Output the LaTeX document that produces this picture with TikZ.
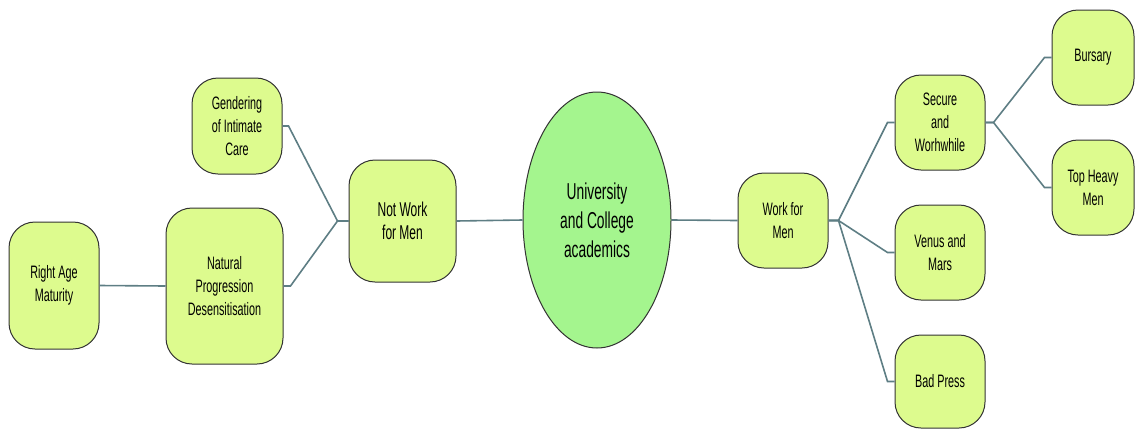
\documentclass[tikz,border=0pt]{standalone}
\usepackage{fontspec}
\setmainfont[FakeStretch=0.6]{Liberation Sans}
\usetikzlibrary{calc,shapes.geometric}
\definecolor{boxfill}{HTML}{DDFB8E}
\definecolor{ellfill}{HTML}{A4F58E}
\definecolor{linec}{HTML}{5E7E84}
\tikzset{
 box/.style={draw=black!80, line width=1pt, fill=boxfill, rounded corners=26pt, align=center, font=\fontsize{18}{23}\selectfont, inner sep=0pt},
 conn/.style={draw=linec, line width=1.6pt},
}
\begin{document}
\begin{tikzpicture}[x=1pt,y=-1pt]
\useasboundingbox (0,0) rectangle (1135,429);
% nodes
\node[box, minimum width=90pt, minimum height=127pt] (rage) at (54,285.5) {Right Age\\Maturity};
\node[box, minimum width=117pt, minimum height=156pt] (nat) at (224.5,286) {Natural\\Progression\\Desensitisation};
\node[box, minimum width=90pt, minimum height=96pt] (gend) at (237,126) {Gendering\\of Intimate\\Care};
\node[box, minimum width=107pt, minimum height=122pt, font=\fontsize{20}{23}\selectfont] (notw) at (402.5,221) {Not Work\\for Men};
\node[ellipse, draw=black!80, line width=1pt, fill=ellfill, minimum width=148pt, minimum height=256pt, inner sep=0pt, align=center, font=\fontsize{23}{29}\selectfont] (root) at (597,220) {University\\and College\\academics};
\node[box, minimum width=90pt, minimum height=95pt] (wfm) at (783,220.5) {Work for\\Men};
\node[box, minimum width=90pt, minimum height=95pt] (sec) at (940,122.5) {Secure\\and\\Worhwhile};
\node[box, minimum width=90pt, minimum height=95pt] (ven) at (940,252.5) {Venus and\\Mars};
\node[box, minimum width=90pt, minimum height=93pt] (bad) at (940,381.5) {Bad Press};
\node[box, minimum width=82pt, minimum height=95pt] (bur) at (1093,57.5) {Bursary};
\node[box, minimum width=82pt, minimum height=95pt] (top) at (1093,187.5) {Top Heavy\\Men};
% connectors
\draw[conn] (rage.east) -- (nat.west);
\draw[conn] (notw.east) -- (root.west);
\draw[conn] (root.east) -- (wfm.west);
\draw[conn] (gend.east) -- ++(6,0) -- ($(notw.west)+(-11,0)$) -- (notw.west);
\draw[conn] (nat.east) -- ++(7,0) -- ($(notw.west)+(-11,0)$) -- (notw.west);
\draw[conn] (wfm.east) -- ++(10,0) -- ($(sec.west)+(-7,0)$) -- (sec.west);
\draw[conn] (wfm.east) -- ++(10,0) -- ($(ven.west)+(-7,0)$) -- (ven.west);
\draw[conn] (wfm.east) -- ++(10,0) -- ($(bad.west)+(-7,0)$) -- (bad.west);
\draw[conn] (sec.east) -- ++(8,0) -- ($(bur.west)+(-7,0)$) -- (bur.west);
\draw[conn] (sec.east) -- ++(8,0) -- ($(top.west)+(-7,0)$) -- (top.west);
\end{tikzpicture}
\end{document}
